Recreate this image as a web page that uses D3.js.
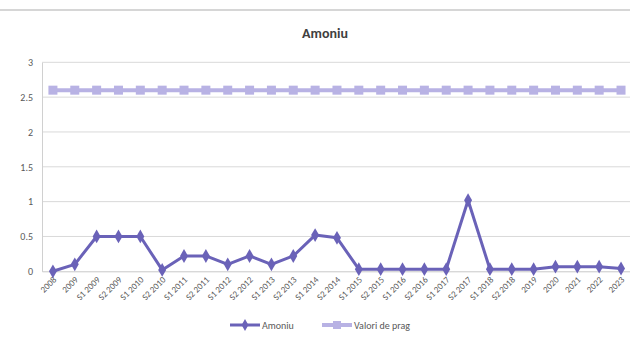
<!DOCTYPE html>
<html><head><meta charset="utf-8">
<script src="https://cdn.jsdelivr.net/npm/d3@7"></script>
<style>body{margin:0;background:#fff}svg{display:block;font-family:Calibri,Carlito,"Liberation Sans","Open Sans",sans-serif}</style>
</head><body><svg id="c" width="630" height="344"></svg>
<script>
const categories = ["2008","2009","S1 2009","S2 2009","S1 2010","S2 2010","S1 2011","S2 2011","S1 2012","S2 2012","S1 2013","S2 2013","S1 2014","S2 2014","S1 2015","S2 2015","S1 2016","S2 2016","S1 2017","S2 2017","S1 2018","S2 2018","2019","2020","2021","2022","2023"];
const amoniu = [0,0.1,0.5,0.5,0.5,0.02,0.22,0.22,0.1,0.22,0.1,0.22,0.52,0.48,0.03,0.03,0.03,0.03,0.03,1.02,0.03,0.03,0.03,0.066,0.066,0.066,0.04];
const valoriPrag = categories.map(() => 2.6);
const yTicks = [0,0.5,1,1.5,2,2.5,3];
const seriesNames = ["Amoniu","Valori de prag"];

const svg = d3.select("#c");
const pL = 42, pR = 42 + 27*21.85, pT = 62.3, pB = 271.3;
const x = d3.scaleBand().domain(categories).range([pL, pR]);
const y = d3.scaleLinear().domain([0,3]).range([pB, pT]);
const cx = d => x(d) + x.bandwidth()/2;
const c1 = "#6a62b8", c2 = "#b8b2e4";

// frame line
svg.append("line").attr("x1",0).attr("x2",630).attr("y1",10).attr("y2",10).attr("stroke","#c8c8c8").attr("stroke-width",1.5);

// title
svg.append("text").attr("x",325).attr("y",38).attr("text-anchor","middle")
  .attr("font-size",14).attr("font-weight","bold").attr("fill","#404040").text("Amoniu");

// gridlines
svg.append("g").selectAll("line").data(yTicks.filter(t=>t>0)).join("line")
  .attr("x1",pL).attr("x2",630).attr("y1",d=>y(d)).attr("y2",d=>y(d))
  .attr("stroke","#d9d9d9").attr("stroke-width",1);

// y axis
const ya = svg.append("g").attr("transform",`translate(${pL},0)`).call(d3.axisLeft(y).tickValues(yTicks).tickSize(0).tickPadding(9).tickFormat(d=>String(d)));
ya.select(".domain").attr("stroke","#d0d0d0");
ya.selectAll("text").attr("font-size",10).attr("fill","#595959").attr("font-family","Calibri,Carlito,'Liberation Sans',sans-serif");

// x axis
const xa = svg.append("g").attr("transform",`translate(0,${pB})`).call(d3.axisBottom(x).tickSize(0).tickPadding(0));
xa.select(".domain").attr("stroke","#c8c8c8");
xa.selectAll("text").attr("font-size",9).attr("fill","#595959").attr("font-family","Calibri,Carlito,'Liberation Sans',sans-serif")
  .attr("text-anchor","end").attr("dy",0).attr("y",0)
  .attr("transform","translate(4,9) rotate(-45)");

// threshold series
const line = d3.line().x((d,i)=>cx(categories[i])).y(d=>y(d));
svg.append("path").datum(valoriPrag).attr("d",line).attr("fill","none").attr("stroke",c2).attr("stroke-width",4);
svg.append("g").selectAll("rect").data(valoriPrag).join("rect")
  .attr("x",(d,i)=>cx(categories[i])-4.5).attr("y",d=>y(d)-4.5).attr("width",9).attr("height",9).attr("fill",c2);

// amoniu series
svg.append("path").datum(amoniu).attr("d",line).attr("fill","none").attr("stroke",c1).attr("stroke-width",3).attr("stroke-linejoin","round");
const diamond = d3.symbol().type(d3.symbolDiamond).size(55);
svg.append("g").selectAll("path").data(amoniu).join("path")
  .attr("d",diamond).attr("transform",(d,i)=>`translate(${cx(categories[i])},${y(d)})`).attr("fill",c1);

// legend
const lg = svg.append("g");
const items = [{n:seriesNames[0],c:c1,x:230,w:3,m:"d"},{n:seriesNames[1],c:c2,x:322,w:4,m:"s"}];
items.forEach(it=>{
  lg.append("line").attr("x1",it.x).attr("x2",it.x+30).attr("y1",325).attr("y2",325).attr("stroke",it.c).attr("stroke-width",it.w);
  if(it.m==="d") lg.append("path").attr("d",d3.symbol().type(d3.symbolDiamond).size(40)).attr("transform",`translate(${it.x+15},325)`).attr("fill",it.c);
  else lg.append("rect").attr("x",it.x+11).attr("y",321).attr("width",8).attr("height",8).attr("fill",it.c);
  lg.append("text").attr("x",it.x+32).attr("y",328.5).attr("font-size",10).attr("fill","#595959").text(it.n);
});
</script></body></html>
